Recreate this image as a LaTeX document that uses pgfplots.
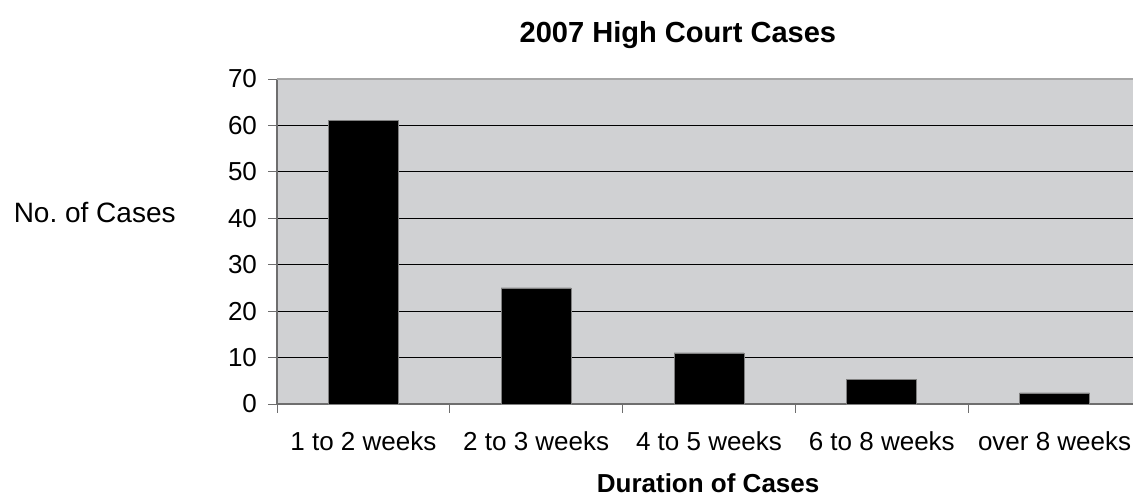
\documentclass[border=0pt]{standalone}
\usepackage{pgfplots}
\pgfplotsset{compat=1.18}
\usepackage{fontspec}
\setmainfont{Liberation Sans}
\definecolor{plotbg}{RGB}{208,209,211}
\definecolor{axgray}{RGB}{110,110,110}
\begin{document}
\begin{tikzpicture}
\begin{axis}[
  scale only axis,
  width=648pt, height=243.75pt,
  at={(0,0)}, anchor=south west,
  xmin=-0.5, xmax=4.5,
  ymin=0, ymax=70,
  xtick={-0.5,0.5,1.5,2.5,3.5,4.5},
  x tick label as interval,
  xticklabels={1 to 2 weeks,2 to 3 weeks,4 to 5 weeks,6 to 8 weeks,over 8 weeks},
  ytick={0,10,...,70},
  /pgf/number format/assume math mode=true,
  tick align=outside,
  major tick length=6.5pt,
  tick style={draw=axgray, line width=0.6pt},
  axis x line*=bottom,
  axis y line*=left,
  axis line style={draw=axgray, line width=0.8pt, -},
  ymajorgrids,
  grid style={draw=black, line width=0.8pt},
  axis background/.style={fill=plotbg},
  ticklabel style={font=\fontsize{19.5}{22}\selectfont},
  xticklabel style={yshift=-10.5pt},
  yticklabel style={xshift=-5pt},
  title={2007 High Court Cases},
  title style={font=\fontsize{21.8}{24}\selectfont\bfseries, at={(axis description cs:0.464,1.11)}, anchor=center, yshift=0pt},
  xlabel={Duration of Cases},
  xlabel style={font=\fontsize{19.5}{22}\selectfont\bfseries, at={(axis description cs:0.499,-0.243)}, anchor=center},
  ylabel={No.\ of Cases},
  ylabel style={font=\fontsize{21}{22}\selectfont, rotate=-90, at={(axis description cs:-0.211,0.588)}, anchor=center},
  ybar, bar width=0.405,
  clip=false,
]
\draw[draw=gray!70, line width=1.2pt] (axis cs:-0.5,70) -- (axis cs:4.5,70);
\addplot[fill=black, draw=gray, line width=0.5pt] coordinates {(0,61) (1,25) (2,11) (3,5.3) (4,2.4)};
\end{axis}
\pgfresetboundingbox
\useasboundingbox (-207.75pt,-69.75pt) rectangle (642pt,303pt);
\end{tikzpicture}
\end{document}
